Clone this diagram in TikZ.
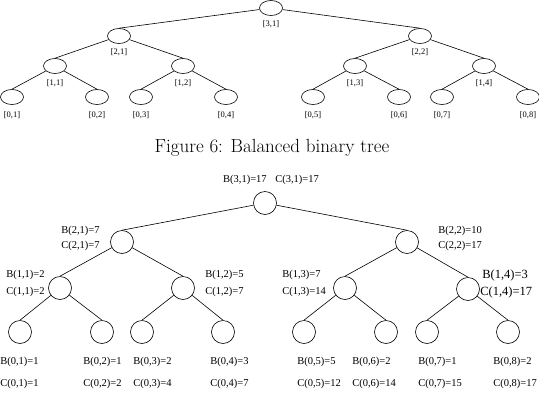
\documentclass[tikz,border=0pt]{standalone}
\usepackage{fontspec}
\newfontfamily\timesfont{Liberation Serif}
\usetikzlibrary{shapes.geometric}

\begin{document}
\begin{tikzpicture}[x=1pt, y=-1pt, line width=0.6pt,
    tnode/.style={draw, ellipse, minimum width=23pt, minimum height=15pt, inner sep=0pt},
    bnode/.style={draw, circle, minimum size=23pt, inner sep=0pt},
    tlab/.style={font=\timesfont\fontsize{8.5}{9}\selectfont, inner sep=0pt},
    blab/.style={font=\timesfont\fontsize{10.5}{12}\selectfont, inner sep=0pt, anchor=west},
    biglab/.style={font=\timesfont\fontsize{12.5}{14}\selectfont, inner sep=0pt, anchor=west}]
    \useasboundingbox (0,0) rectangle (539,400);

    \node[tnode] (T31) at (271,8) {};
    \node[tnode] (T21) at (119,36) {};
    \node[tnode] (T22) at (420,36) {};
    \node[tnode] (T11) at (55,66) {};
    \node[tnode] (T12) at (183,66) {};
    \node[tnode] (T13) at (355,66) {};
    \node[tnode] (T14) at (484,66) {};
    \node[tnode] (T01) at (12,97) {};
    \node[tnode] (T02) at (97,97) {};
    \node[tnode] (T03) at (141,97) {};
    \node[tnode] (T04) at (226,97) {};
    \node[tnode] (T05) at (313,97) {};
    \node[tnode] (T06) at (399,97) {};
    \node[tnode] (T07) at (442,97) {};
    \node[tnode] (T08) at (528,97) {};

    \draw (T31) -- (T21.north);
    \draw (T31) -- (T22.north);
    \draw (T21) -- (T11.north);
    \draw (T21) -- (T12.north);
    \draw (T22) -- (T13.north);
    \draw (T22) -- (T14.north);
    \draw (T11) -- (T01.north);
    \draw (T11) -- (T02.north);
    \draw (T12) -- (T03.north);
    \draw (T12) -- (T04.north);
    \draw (T13) -- (T05.north);
    \draw (T13) -- (T06.north);
    \draw (T14) -- (T07.north);
    \draw (T14) -- (T08.north);

    \node[tlab] (TL31) at (271,24) {[3,1]};
    \node[tlab] (TL21) at (119,52) {[2,1]};
    \node[tlab] (TL22) at (420,52) {[2,2]};
    \node[tlab] (TL11) at (55,83) {[1,1]};
    \node[tlab] (TL12) at (183,83) {[1,2]};
    \node[tlab] (TL13) at (355,83) {[1,3]};
    \node[tlab] (TL14) at (484,83) {[1,4]};
    \node[tlab] (TL01) at (12,115) {[0,1]};
    \node[tlab] (TL02) at (97,115) {[0,2]};
    \node[tlab] (TL03) at (141,115) {[0,3]};
    \node[tlab] (TL04) at (226,115) {[0,4]};
    \node[tlab] (TL05) at (313,115) {[0,5]};
    \node[tlab] (TL06) at (399,115) {[0,6]};
    \node[tlab] (TL07) at (442,115) {[0,7]};
    \node[tlab] (TL08) at (528,115) {[0,8]};

    \node[font=\fontsize{19}{21}\selectfont] (cap) at (272,148) {Figure 6: Balanced binary tree};

    \node[bnode] (B31) at (265,203) {};
    \node[bnode] (B21) at (122,242) {};
    \node[bnode] (B22) at (407,242) {};
    \node[bnode] (B11) at (60,288) {};
    \node[bnode] (B12) at (183,288) {};
    \node[bnode] (B13) at (345,288) {};
    \node[bnode] (B14) at (468,289) {};
    \node[bnode] (B01) at (20,332) {};
    \node[bnode] (B02) at (102,332) {};
    \node[bnode] (B03) at (142,332) {};
    \node[bnode] (B04) at (223,332) {};
    \node[bnode] (B05) at (304,332) {};
    \node[bnode] (B06) at (386,332) {};
    \node[bnode] (B07) at (427,332) {};
    \node[bnode] (B08) at (508,332) {};

    \draw (B31) -- (B21.north);
    \draw (B31) -- (B22.north);
    \draw (B21) -- (B11.north);
    \draw (B21) -- (B12.north);
    \draw (B22) -- (B13.north);
    \draw (B22) -- (B14.north);
    \draw (B11) -- (B01.north);
    \draw (B11) -- (B02.north);
    \draw (B12) -- (B03.north);
    \draw (B12) -- (B04.north);
    \draw (B13) -- (B05.north);
    \draw (B13) -- (B06.north);
    \draw (B14) -- (B07.north);
    \draw (B14) -- (B08.north);

    \node[blab, anchor=east] (b31) at (267,180) {B(3,1)=17};
    \node[blab] (c31) at (275,180) {C(3,1)=17};
    \node[blab] (b21) at (61,231) {B(2,1)=7};
    \node[blab] (c21) at (61,246) {C(2,1)=7};
    \node[blab] (b22) at (438,231) {B(2,2)=10};
    \node[blab] (c22) at (438,246) {C(2,2)=17};
    \node[blab] (b11) at (6,275) {B(1,1)=2};
    \node[blab] (c11) at (6,292) {C(1,1)=2};
    \node[blab] (b12) at (205,275) {B(1,2)=5};
    \node[blab] (c12) at (205,292) {C(1,2)=7};
    \node[blab] (b13) at (282,275) {B(1,3)=7};
    \node[blab] (c13) at (282,292) {C(1,3)=14};
    \node[biglab] (b14) at (482,275) {B(1,4)=3};
    \node[biglab] (c14) at (480,292) {C(1,4)=17};

    \node[blab] (b01) at (0,362) {B(0,1)=1};
    \node[blab] (c01) at (0,384) {C(0,1)=1};
    \node[blab] (b02) at (83,362) {B(0,2)=1};
    \node[blab] (c02) at (83,384) {C(0,2)=2};
    \node[blab] (b03) at (133,362) {B(0,3)=2};
    \node[blab] (c03) at (133,384) {C(0,3)=4};
    \node[blab] (b04) at (210,362) {B(0,4)=3};
    \node[blab] (c04) at (210,384) {C(0,4)=7};
    \node[blab] (b05) at (297,362) {B(0,5)=5};
    \node[blab] (c05) at (297,384) {C(0,5)=12};
    \node[blab] (b06) at (352,362) {B(0,6)=2};
    \node[blab] (c06) at (352,384) {C(0,6)=14};
    \node[blab] (b07) at (418,362) {B(0,7)=1};
    \node[blab] (c07) at (418,384) {C(0,7)=15};
    \node[blab] (b08) at (493,362) {B(0,8)=2};
    \node[blab] (c08) at (493,384) {C(0,8)=17};
\end{tikzpicture}
\end{document}
